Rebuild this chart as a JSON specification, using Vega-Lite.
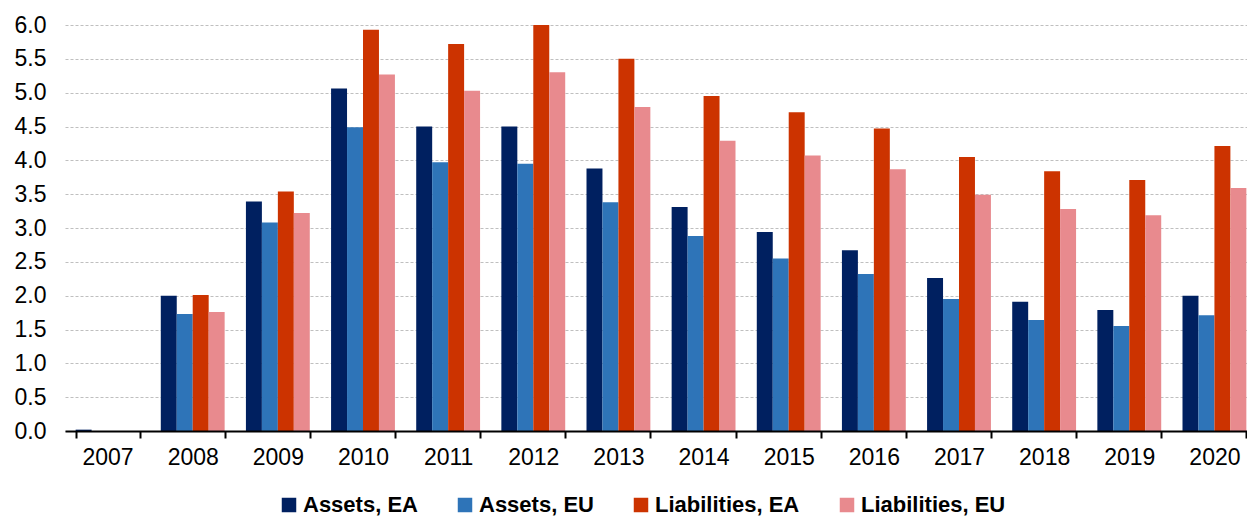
{
  "$schema": "https://vega.github.io/schema/vega-lite/v6.json",
  "autosize": "none",
  "width": 1182,
  "height": 406,
  "padding": {"left": 65, "top": 25, "right": 0, "bottom": 87},
  "background": "white",
  "config": {
    "font": "Liberation Sans",
    "view": {"stroke": null}
  },
  "data": {
    "values": [
      {"year": "2007", "series": "Assets, EA", "value": 0.02},
      {"year": "2007", "series": "Assets, EU", "value": 0},
      {"year": "2007", "series": "Liabilities, EA", "value": 0},
      {"year": "2007", "series": "Liabilities, EU", "value": 0},
      {"year": "2008", "series": "Assets, EA", "value": 2.0},
      {"year": "2008", "series": "Assets, EU", "value": 1.73},
      {"year": "2008", "series": "Liabilities, EA", "value": 2.01},
      {"year": "2008", "series": "Liabilities, EU", "value": 1.76},
      {"year": "2009", "series": "Assets, EA", "value": 3.39},
      {"year": "2009", "series": "Assets, EU", "value": 3.08},
      {"year": "2009", "series": "Liabilities, EA", "value": 3.54},
      {"year": "2009", "series": "Liabilities, EU", "value": 3.22},
      {"year": "2010", "series": "Assets, EA", "value": 5.06},
      {"year": "2010", "series": "Assets, EU", "value": 4.49},
      {"year": "2010", "series": "Liabilities, EA", "value": 5.93},
      {"year": "2010", "series": "Liabilities, EU", "value": 5.27},
      {"year": "2011", "series": "Assets, EA", "value": 4.5},
      {"year": "2011", "series": "Assets, EU", "value": 3.97},
      {"year": "2011", "series": "Liabilities, EA", "value": 5.72},
      {"year": "2011", "series": "Liabilities, EU", "value": 5.03},
      {"year": "2012", "series": "Assets, EA", "value": 4.5},
      {"year": "2012", "series": "Assets, EU", "value": 3.95},
      {"year": "2012", "series": "Liabilities, EA", "value": 6.0},
      {"year": "2012", "series": "Liabilities, EU", "value": 5.3},
      {"year": "2013", "series": "Assets, EA", "value": 3.88},
      {"year": "2013", "series": "Assets, EU", "value": 3.38},
      {"year": "2013", "series": "Liabilities, EA", "value": 5.5},
      {"year": "2013", "series": "Liabilities, EU", "value": 4.79},
      {"year": "2014", "series": "Assets, EA", "value": 3.31},
      {"year": "2014", "series": "Assets, EU", "value": 2.88},
      {"year": "2014", "series": "Liabilities, EA", "value": 4.95},
      {"year": "2014", "series": "Liabilities, EU", "value": 4.29},
      {"year": "2015", "series": "Assets, EA", "value": 2.94},
      {"year": "2015", "series": "Assets, EU", "value": 2.55},
      {"year": "2015", "series": "Liabilities, EA", "value": 4.71},
      {"year": "2015", "series": "Liabilities, EU", "value": 4.07},
      {"year": "2016", "series": "Assets, EA", "value": 2.67},
      {"year": "2016", "series": "Assets, EU", "value": 2.32},
      {"year": "2016", "series": "Liabilities, EA", "value": 4.47},
      {"year": "2016", "series": "Liabilities, EU", "value": 3.87},
      {"year": "2017", "series": "Assets, EA", "value": 2.26},
      {"year": "2017", "series": "Assets, EU", "value": 1.95},
      {"year": "2017", "series": "Liabilities, EA", "value": 4.05},
      {"year": "2017", "series": "Liabilities, EU", "value": 3.49},
      {"year": "2018", "series": "Assets, EA", "value": 1.91},
      {"year": "2018", "series": "Assets, EU", "value": 1.64},
      {"year": "2018", "series": "Liabilities, EA", "value": 3.84},
      {"year": "2018", "series": "Liabilities, EU", "value": 3.28},
      {"year": "2019", "series": "Assets, EA", "value": 1.79},
      {"year": "2019", "series": "Assets, EU", "value": 1.55},
      {"year": "2019", "series": "Liabilities, EA", "value": 3.71},
      {"year": "2019", "series": "Liabilities, EU", "value": 3.19},
      {"year": "2020", "series": "Assets, EA", "value": 2.0},
      {"year": "2020", "series": "Assets, EU", "value": 1.71},
      {"year": "2020", "series": "Liabilities, EA", "value": 4.21},
      {"year": "2020", "series": "Liabilities, EU", "value": 3.59}
    ]
  },
  "layer": [
    {
      "mark": {"type": "bar", "width": {"band": 1}},
      "encoding": {
        "x": {
          "field": "year",
          "type": "nominal",
          "title": null,
          "scale": {"range": [0, 1192], "paddingInner": 0.25, "paddingOuter": 0.125},
          "axis": {
            "tickBand": "extent",
            "labelAngle": 0,
            "labelFontSize": 23,
            "labelColor": "#000000",
            "labelPadding": 8,
            "domainColor": "#000000",
            "domainWidth": 2,
            "tickColor": "#000000",
            "tickWidth": 2,
            "tickSize": 7,
            "grid": false,
            "zindex": 2
          }
        },
        "xOffset": {
          "field": "series",
          "type": "nominal",
          "sort": ["Assets, EA", "Assets, EU", "Liabilities, EA", "Liabilities, EU"],
          "scale": {"paddingInner": 0, "paddingOuter": 0}
        },
        "y": {
          "field": "value",
          "type": "quantitative",
          "title": null,
          "scale": {"domain": [0, 6], "nice": false},
          "axis": {
            "values": [0, 0.5, 1, 1.5, 2, 2.5, 3, 3.5, 4, 4.5, 5, 5.5, 6],
            "format": ".1f",
            "labelFontSize": 23,
            "labelColor": "#000000",
            "labelPadding": 19,
            "domain": false,
            "ticks": false,
            "grid": true,
            "gridColor": "#bfbfbf",
            "gridDash": [3, 2],
            "gridWidth": 1
          }
        },
        "color": {
          "field": "series",
          "type": "nominal",
          "sort": ["Assets, EA", "Assets, EU", "Liabilities, EA", "Liabilities, EU"],
          "scale": {
            "domain": ["Assets, EA", "Assets, EU", "Liabilities, EA", "Liabilities, EU"],
            "range": ["#002060", "#2e74b8", "#cc3300", "#e88a8e"]
          },
          "legend": {
            "title": null,
            "orient": "none",
            "direction": "horizontal",
            "legendX": 213,
            "legendY": 469,
            "symbolType": "square",
            "symbolSize": 210,
            "symbolStrokeWidth": 0,
            "labelFontSize": 22,
            "labelFontWeight": "bold",
            "labelColor": "#000000",
            "labelOffset": 3,
            "columnPadding": 36
          }
        }
      }
    }
  ]
}
